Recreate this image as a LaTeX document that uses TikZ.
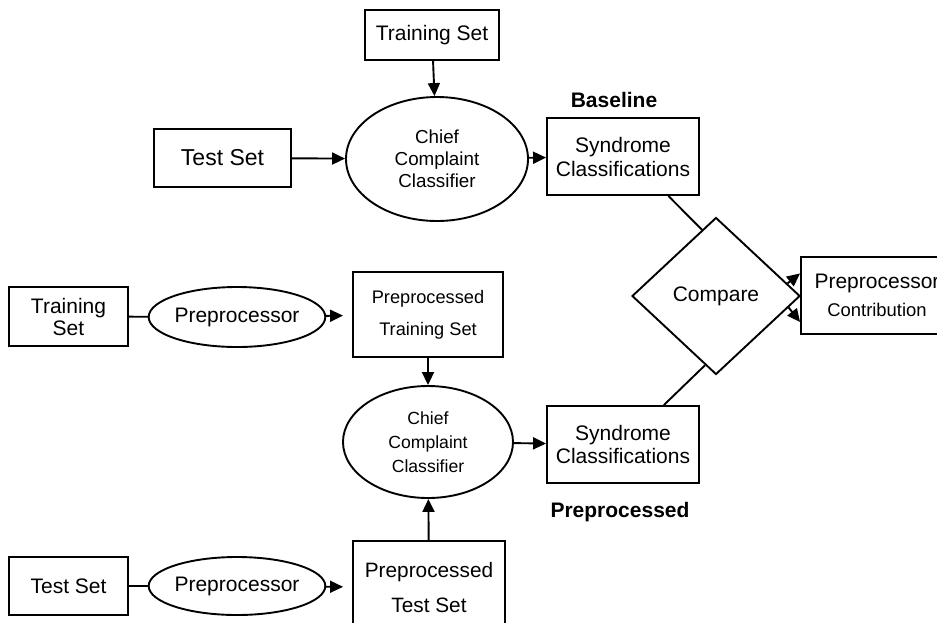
\documentclass[tikz,border=0pt]{standalone}
\usepackage{fontspec}
\setmainfont{Liberation Sans}
\usepackage{tikz}
\usetikzlibrary{shapes.geometric}
\usetikzlibrary{arrows.meta}

\newcommand{\fs}[2]{\fontsize{#1}{#2}\selectfont}

\begin{document}
\begin{tikzpicture}[x=0.5pt,y=-0.5pt,
    line width=0.95pt,
    >={Triangle[length=6.5pt,width=6pt]},
    boxnode/.style={draw, rectangle, align=center, inner sep=0pt},
    ellnode/.style={draw, ellipse, align=center, inner sep=0pt},
    lbl/.style={font=\bfseries\fs{10.5}{12}}]
            \useasboundingbox (0,0) rectangle (937,622);
            \clip (0,0) rectangle (937,622);

            % Baseline branch
            \node[boxnode, minimum width=67pt, minimum height=25pt, font=\fs{10.5}{12}] (trainA) at (432,35) {Training Set};
            \node[boxnode, minimum width=68.5pt, minimum height=29pt, font=\fs{11.5}{13}] (testA) at (222.5,158) {Test Set};
            \node[ellnode, minimum width=91pt, minimum height=62pt, font=\fs{9.4}{11}] (ccA) at (437,159) {Chief\\Complaint\\Classifier};
            \node[boxnode, minimum width=76pt, minimum height=38.5pt, font=\fs{10.5}{12}] (synA) at (623,156.5) {Syndrome\\Classifications};
            \node[lbl] (baseA) at (614,100) {Baseline};

            % Comparison
            \node[draw, diamond, inner sep=0pt, minimum width=84pt, minimum height=78.5pt, font=\fs{10.5}{12}] (cmp) at (716,296) {Compare};
            \node[boxnode, minimum width=76pt, minimum height=38.5pt, font=\fs{10.5}{14}] (contrib) at (877,295.5) {Preprocessor\\{\fs{9.2}{14}Contribution}};

            % Preprocessed branch
            \node[boxnode, minimum width=59.5pt, minimum height=29.5pt, font=\fs{10.5}{11}] (trainB) at (68.5,316.5) {Training\\Set};
            \node[ellnode, minimum width=86pt, minimum height=30pt, font=\fs{10.5}{12}] (ppB) at (237,317) {Preprocessor};
            \node[boxnode, minimum width=75pt, minimum height=42.5pt, font=\fs{9.1}{16}] (ptsB) at (428,314.5) {Preprocessed\\Training Set};
            \node[ellnode, minimum width=85pt, minimum height=56pt, font=\fs{8.8}{12}] (ccB) at (428,442) {Chief\\Complaint\\Classifier};
            \node[boxnode, minimum width=76pt, minimum height=38.5pt, font=\fs{10.5}{11.5}] (synB) at (623,444.5) {Syndrome\\Classifications};
            \node[lbl] (baseB) at (620,512) {Preprocessed};
            \node[boxnode, minimum width=76pt, minimum height=46.5pt, font=\fs{10.4}{17.5}] (ptB) at (429,587.5) {Preprocessed\\Test Set};
            \node[boxnode, minimum width=59.5pt, minimum height=29pt, font=\fs{10.5}{12}] (testB) at (68.5,586) {Test Set};
            \node[ellnode, minimum width=86pt, minimum height=29pt, font=\fs{10.5}{12}] (ppC) at (237,586) {Preprocessor};

            % Arrows
            \draw[->] (trainA) -- (ccA);
            \draw[->] (testA) -- (ccA);
            \draw[->] (ccA) -- (synA);
            \draw (trainB) -- (ppB);
            \draw[->, shorten >=4.5pt] (ppB) -- (ptsB);
            \draw[->] (ptsB) -- (ccB);
            \draw[->] (ptB) -- (ccB);
            \draw[->] (ccB) -- (synB);
            \draw (testB) -- (ppC);
            \draw[->, shorten >=4.5pt] (ppC) -- (ptB);

            % Into and out of the comparison
            \draw (synA.-41) -- (cmp.102);
            \draw (synB.44) -- (cmp.-99);
            \draw[->] (cmp.10.4) -- (contrib.164.2);
            \draw[->] (cmp.-9.6) -- (contrib.199.2);
        \end{tikzpicture}
\end{document}
